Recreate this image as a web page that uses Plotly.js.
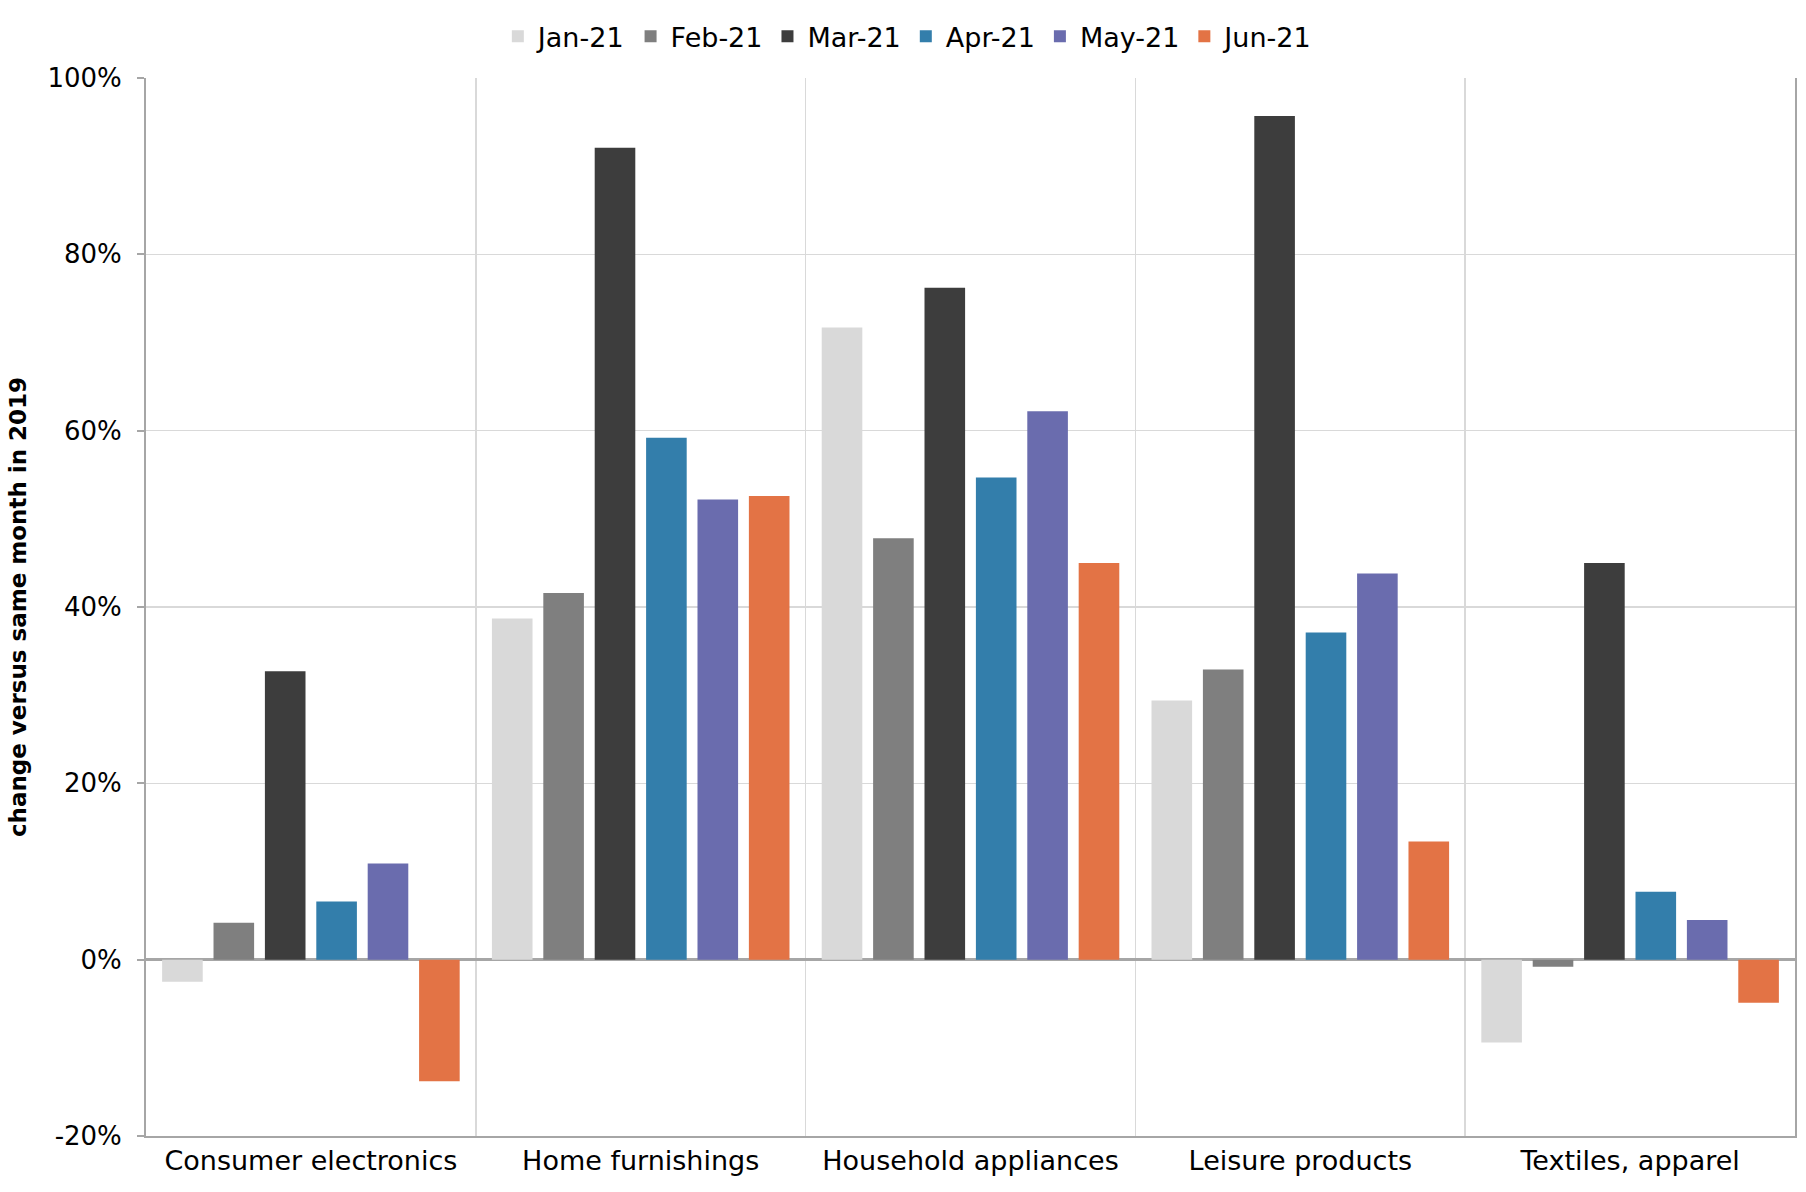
<!DOCTYPE html>
<html>
<head>
<meta charset="utf-8">
<script src="https://cdn.plot.ly/plotly-3.0.1.min.js"></script>
<style>html,body{margin:0;padding:0;background:#fff;}#chart{width:1806px;height:1192px;}</style>
</head>
<body>
<div id="chart"></div>
<script>
const categories = ["Consumer electronics", "Home furnishings", "Household appliances", "Leisure products", "Textiles, apparel"];
const seriesNames = ["Jan-21", "Feb-21", "Mar-21", "Apr-21", "May-21", "Jun-21"];
const jan21 = [-2.5, 38.7, 71.7, 29.4, -9.4];
const feb21 = [4.2, 41.6, 47.8, 32.9, -0.8];
const mar21 = [32.7, 92.1, 76.2, 95.7, 45.0];
const apr21 = [6.6, 59.2, 54.7, 37.1, 7.7];
const may21 = [10.9, 52.2, 62.2, 43.8, 4.5];
const jun21 = [-13.8, 52.6, 45.0, 13.4, -4.9];
const yTickVals = [-20, 0, 20, 40, 60, 80, 100];
const yTickText = ["-20%", "0%", "20%", "40%", "60%", "80%", "100%"];

const values = [jan21, feb21, mar21, apr21, may21, jun21];
const colors = ["#d9d9d9", "#7f7f7f", "#3d3d3d", "#337eab", "#6a6cae", "#e37345"];

const traces = seriesNames.map((name, i) => ({
  type: "bar",
  name: name,
  x: categories,
  y: values[i],
  marker: {color: colors[i], line: {width: 0}},
  hoverinfo: "skip"
}));

const axisGray = "#a6a6a6";
const gridGray = "#d9d9d9";

const layout = {
  width: 1806,
  height: 1192,
  paper_bgcolor: "#ffffff",
  plot_bgcolor: "#ffffff",
  margin: {l: 146, r: 11, t: 78, b: 56},
  barmode: "group",
  bargap: 0.065,
  bargroupgap: 0.21,
  font: {family: "DejaVu Sans", color: "#000000"},
  showlegend: true,
  legend: {
    orientation: "h",
    x: 0.462, xanchor: "center",
    y: 1.039, yanchor: "middle",
    font: {family: "DejaVu Sans", size: 27, color: "#000"},
    itemwidth: 30,
    traceorder: "normal"
  },
  xaxis: {
    type: "category",
    categoryorder: "array",
    categoryarray: categories,
    range: [-0.5, 4.5],
    tickson: "boundaries",
    ticks: "",
    showgrid: true,
    gridcolor: gridGray,
    gridwidth: 1.5,
    showline: true,
    linecolor: axisGray,
    linewidth: 2,
    mirror: false,
    zeroline: false,
    tickfont: {family: "DejaVu Sans", size: 27, color: "#000"},
    fixedrange: true
  },
  xaxis2: {
    overlaying: "x",
    anchor: "free",
    position: 20 / 120,
    side: "bottom",
    range: [-0.5, 4.5],
    tick0: -0.5,
    dtick: 0.5,
    ticks: "outside",
    ticklen: 6,
    tickwidth: 2,
    tickcolor: axisGray,
    showticklabels: false,
    showgrid: false,
    zeroline: false,
    showline: false,
    fixedrange: true
  },
  yaxis: {
    range: [-20, 100],
    tickvals: yTickVals,
    ticktext: yTickText,
    ticks: "outside",
    ticklen: 7,
    tickwidth: 2,
    tickcolor: axisGray,
    showgrid: true,
    gridcolor: gridGray,
    gridwidth: 1.5,
    showline: true,
    mirror: true,
    linecolor: axisGray,
    linewidth: 2,
    zeroline: true,
    zerolinecolor: axisGray,
    zerolinewidth: 3,
    ticklabelstandoff: 10,
    tickfont: {family: "DejaVu Sans", size: 26, color: "#000"},
    title: {
      text: "change versus same month in 2019",
      font: {family: "DejaVu Sans", size: 23, color: "#000", weight: "bold"},
      standoff: 14
    },
    fixedrange: true
  }
};

Plotly.newPlot("chart", traces, layout, {displayModeBar: false, staticPlot: true});
</script>
</body>
</html>
